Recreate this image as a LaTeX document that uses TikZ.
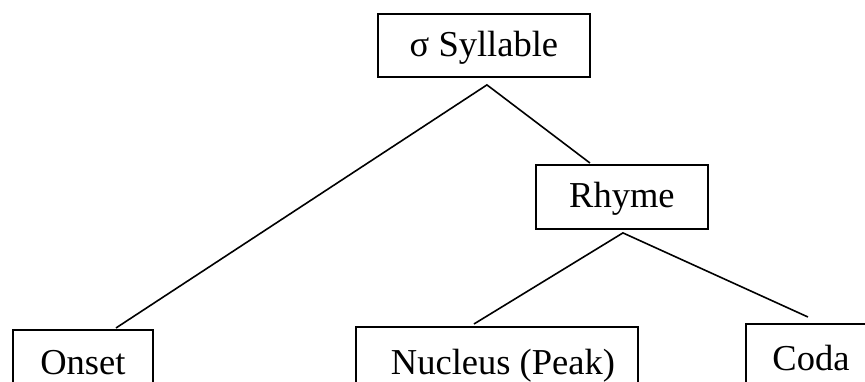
\documentclass[tikz,border=0pt]{standalone}
\usepackage{fontspec}
\setmainfont{Liberation Serif}
\tikzset{
  tbox/.style={draw, line width=1.9pt, rectangle, inner sep=0pt, anchor=north west,
    font=\fontsize{36.5}{40}\selectfont, text height=26pt, text depth=4pt},
  conn/.style={line width=1.6pt}
}
\begin{document}
\begin{tikzpicture}[x=1pt,y=-1pt]
\useasboundingbox (0,0) rectangle (865,381);
\clip (0,0) rectangle (865,381);
\node[tbox, minimum width=212pt, minimum height=63pt] (syl) at (377,13) {σ Syllable};
\node[tbox, minimum width=172pt, minimum height=64pt] (rhyme) at (535,164) {Rhyme};
\node[tbox, minimum width=140pt, minimum height=68pt] (onset) at (12,329) {Onset};
\node[tbox, minimum width=282pt, minimum height=74pt] (nucleus) at (355,326) {\hspace*{12pt}Nucleus (Peak)};
\node[tbox, minimum width=130pt, minimum height=72pt] (coda) at (745,323) {Coda};
\coordinate (sa) at ([shift={(3,7)}]syl.south);
\coordinate (ra) at ([shift={(1,3)}]rhyme.south);
\coordinate (oe) at ([shift={(33,-1)}]onset.north);
\coordinate (re) at ([shift={(-32,-1)}]rhyme.north);
\coordinate (ne) at ([shift={(-23,-2)}]nucleus.north);
\coordinate (ce) at ([shift={(-3,-6)}]coda.north);
\draw[conn] (oe) -- (sa) -- (re);
\draw[conn] (ne) -- (ra) -- (ce);
\end{tikzpicture}
\end{document}
